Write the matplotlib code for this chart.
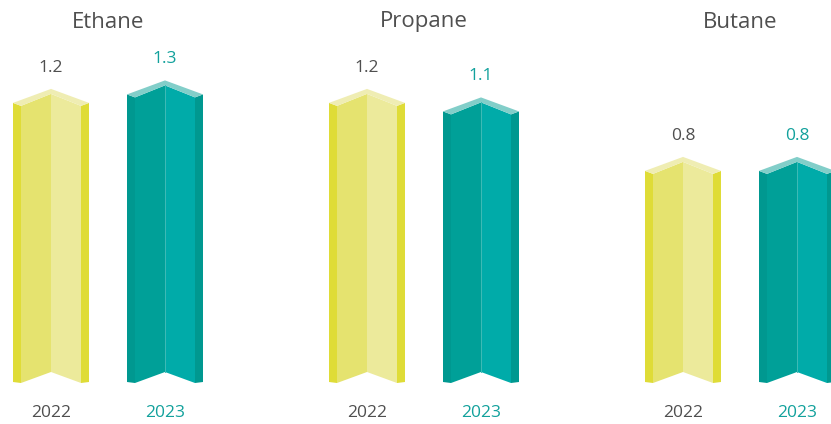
import matplotlib.pyplot as plt
from matplotlib.patches import Polygon

plt.rcParams['font.family'] = ['Open Sans', 'DejaVu Sans']

# data
gases = ['Ethane', 'Propane', 'Butane']
years = ['2022', '2023']
values_2022 = [1.2, 1.2, 0.8]
values_2023 = [1.25, 1.15, 0.8]
labels_2022 = ['1.2', '1.2', '0.8']
labels_2023 = ['1.3', '1.1', '0.8']

# colours: strip, left face, right face, cap, centre line
yellow = ['#DFDC37', '#E5E36F', '#ECEA9B', '#EFEDB3', None]
teal = ['#009890', '#00A098', '#00ABA9', '#82CEC9', '#3FBBB6']
grey_txt = '#4F4F4F'
teal_txt = '#12A19C'

# scale: pixels per data unit, bars start from a visual floor
px_x = 316.0
px_y = 170.0
bar_floor = -0.53
offset = 57 / px_x


def px(dx, dy):
    return dx / px_x, dy / px_y


def draw_prism(ax, cx, top, cols):
    hw, iw = 38, 30

    def pt(dx, dy):
        ddx, ddy = px(dx, dy)
        return (cx + ddx, top + ddy)

    def fl(dx, dy=0):
        ddx, ddy = px(dx, dy)
        return (cx + ddx, bar_floor + ddy)

    strip, left, right, cap, line = cols
    # side strips
    ax.add_patch(Polygon([pt(-hw, -14), pt(-iw, -17), fl(-iw), fl(-hw, 1)],
                         closed=True, fc=strip, ec='none'))
    ax.add_patch(Polygon([pt(hw, -14), pt(iw, -17), fl(iw), fl(hw, 1)],
                         closed=True, fc=strip, ec='none'))
    # faces
    ax.add_patch(Polygon([pt(-iw, -17), pt(0, -5), fl(0, 11), fl(-iw)],
                         closed=True, fc=left, ec='none'))
    ax.add_patch(Polygon([pt(iw, -17), pt(0, -5), fl(0, 11), fl(iw)],
                         closed=True, fc=right, ec='none'))
    # top cap
    ax.add_patch(Polygon([pt(-hw, -14), pt(0, 0), pt(hw, -14),
                          pt(iw, -17), pt(0, -5), pt(-iw, -17)],
                         closed=True, fc=cap, ec='none'))
    # thin highlight down the fold (teal only)
    if line:
        a, b = pt(0, -5), fl(0, 11)
        ax.plot([a[0], b[0]], [a[1], b[1]], color=line, lw=0.7)


fig = plt.figure(figsize=(8.31, 4.24), dpi=100)
ax = fig.add_axes([0, 0, 1, 1])
ax.set_xlim(-108 / px_x, (831 - 108) / px_x)
ax.set_ylim(bar_floor - 41 / px_y, bar_floor + 383 / px_y)
ax.axis('off')

for i, gas in enumerate(gases):
    x1, x2 = i - offset, i + offset
    draw_prism(ax, x1, values_2022[i], yellow)
    draw_prism(ax, x2, values_2023[i], teal)

    ax.text(x1, values_2022[i] + 21 / px_y, labels_2022[i], ha='center', va='center',
            fontsize=12.5, color=grey_txt)
    ax.text(x2, values_2023[i] + 21 / px_y, labels_2023[i], ha='center', va='center',
            fontsize=12.5, color=teal_txt, fontweight='medium')

    ax.text(i, 1 - 22 / 424, gas, ha='center', va='center', fontsize=16,
            color=grey_txt, transform=ax.get_xaxis_transform())
    ax.text(x1, 11 / 424, years[0], ha='center', va='center', fontsize=12.5,
            color=grey_txt, transform=ax.get_xaxis_transform())
    ax.text(x2, 11 / 424, years[1], ha='center', va='center', fontsize=12.5,
            color=teal_txt, fontweight='medium', transform=ax.get_xaxis_transform())

fig.savefig('out.png', dpi=100, facecolor='white')
